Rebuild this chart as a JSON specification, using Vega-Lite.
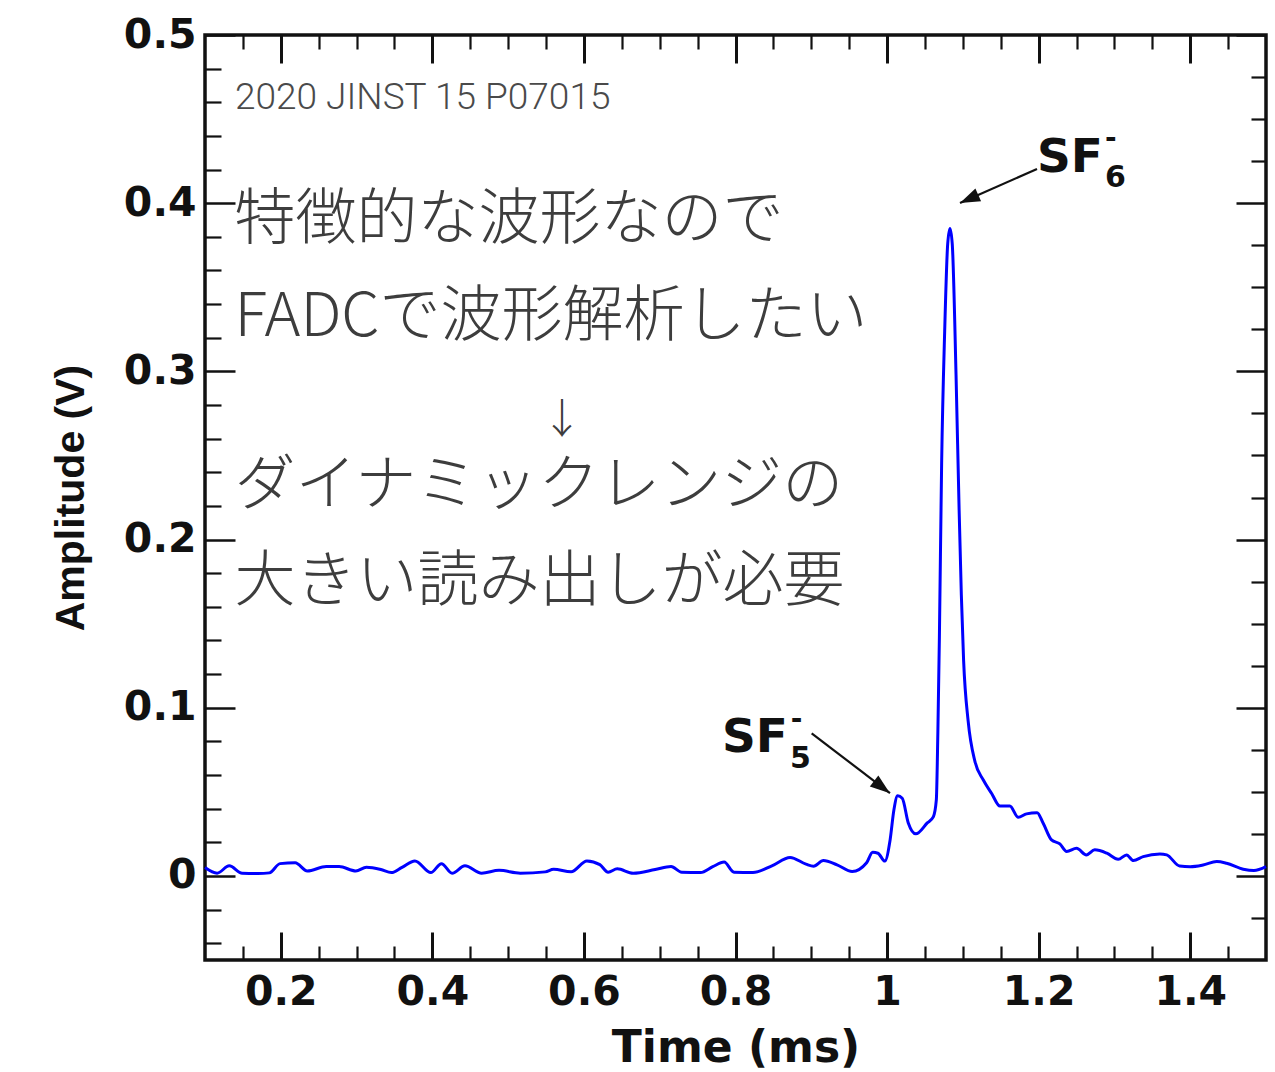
{
  "$schema": "https://vega.github.io/schema/vega-lite/v6.json",
  "width": 1061,
  "height": 925,
  "autosize": {"type": "none"},
  "padding": {"left": 205, "top": 35, "right": 9, "bottom": 112},
  "background": "white",
  "config": {
    "view": {"stroke": "#111", "strokeWidth": 3.5},
    "axis": {"domain": false, "grid": false, "tickColor": "#111"}
  },
  "data": {
    "values": [
      {"t": 0.100, "v": 0.0050}, {"t": 0.116, "v": 0.0016}, {"t": 0.132, "v": 0.0060}, {"t": 0.149, "v": 0.0016},
      {"t": 0.170, "v": 0.0014}, {"t": 0.185, "v": 0.0018}, {"t": 0.199, "v": 0.0073}, {"t": 0.219, "v": 0.0078},
      {"t": 0.235, "v": 0.0029}, {"t": 0.260, "v": 0.0056}, {"t": 0.277, "v": 0.0056}, {"t": 0.299, "v": 0.0029},
      {"t": 0.313, "v": 0.0051}, {"t": 0.332, "v": 0.0038}, {"t": 0.346, "v": 0.0020}, {"t": 0.360, "v": 0.0051},
      {"t": 0.377, "v": 0.0089}, {"t": 0.398, "v": 0.0020}, {"t": 0.412, "v": 0.0073}, {"t": 0.426, "v": 0.0016},
      {"t": 0.443, "v": 0.0060}, {"t": 0.465, "v": 0.0016}, {"t": 0.488, "v": 0.0033}, {"t": 0.516, "v": 0.0016},
      {"t": 0.549, "v": 0.0024}, {"t": 0.560, "v": 0.0040}, {"t": 0.583, "v": 0.0024}, {"t": 0.604, "v": 0.0089},
      {"t": 0.621, "v": 0.0067}, {"t": 0.632, "v": 0.0022}, {"t": 0.644, "v": 0.0042}, {"t": 0.665, "v": 0.0016},
      {"t": 0.694, "v": 0.0038}, {"t": 0.715, "v": 0.0056}, {"t": 0.729, "v": 0.0022}, {"t": 0.754, "v": 0.0020},
      {"t": 0.770, "v": 0.0055}, {"t": 0.785, "v": 0.0082}, {"t": 0.798, "v": 0.0022}, {"t": 0.823, "v": 0.0020},
      {"t": 0.848, "v": 0.0060}, {"t": 0.872, "v": 0.0110}, {"t": 0.893, "v": 0.0070}, {"t": 0.903, "v": 0.0058},
      {"t": 0.916, "v": 0.0092}, {"t": 0.934, "v": 0.0066}, {"t": 0.954, "v": 0.0026}, {"t": 0.973, "v": 0.0078},
      {"t": 0.981, "v": 0.0140}, {"t": 0.988, "v": 0.0135}, {"t": 0.997, "v": 0.0088}, {"t": 1.004, "v": 0.0214},
      {"t": 1.009, "v": 0.0392}, {"t": 1.014, "v": 0.0476}, {"t": 1.020, "v": 0.0462}, {"t": 1.028, "v": 0.0315},
      {"t": 1.038, "v": 0.0250}, {"t": 1.053, "v": 0.0315}, {"t": 1.061, "v": 0.0351}, {"t": 1.065, "v": 0.0452},
      {"t": 1.067, "v": 0.0850}, {"t": 1.069, "v": 0.1410}, {"t": 1.072, "v": 0.2455}, {"t": 1.076, "v": 0.3237},
      {"t": 1.080, "v": 0.3758}, {"t": 1.083, "v": 0.3850}, {"t": 1.086, "v": 0.3758}, {"t": 1.091, "v": 0.2980},
      {"t": 1.095, "v": 0.2190}, {"t": 1.098, "v": 0.1670}, {"t": 1.101, "v": 0.1280}, {"t": 1.107, "v": 0.0920},
      {"t": 1.116, "v": 0.0680}, {"t": 1.127, "v": 0.0570}, {"t": 1.138, "v": 0.0490}, {"t": 1.149, "v": 0.0415},
      {"t": 1.162, "v": 0.0416}, {"t": 1.173, "v": 0.0349}, {"t": 1.184, "v": 0.0369}, {"t": 1.198, "v": 0.0376},
      {"t": 1.206, "v": 0.0313}, {"t": 1.217, "v": 0.0214}, {"t": 1.228, "v": 0.0190}, {"t": 1.237, "v": 0.0145},
      {"t": 1.250, "v": 0.0164}, {"t": 1.263, "v": 0.0125}, {"t": 1.274, "v": 0.0155}, {"t": 1.290, "v": 0.0135},
      {"t": 1.305, "v": 0.0099}, {"t": 1.316, "v": 0.0125}, {"t": 1.325, "v": 0.0091}, {"t": 1.338, "v": 0.0115},
      {"t": 1.360, "v": 0.0131}, {"t": 1.369, "v": 0.0125}, {"t": 1.386, "v": 0.0059}, {"t": 1.400, "v": 0.0055},
      {"t": 1.417, "v": 0.0065}, {"t": 1.435, "v": 0.0085}, {"t": 1.448, "v": 0.0075}, {"t": 1.470, "v": 0.0040},
      {"t": 1.484, "v": 0.0032}, {"t": 1.500, "v": 0.0055}
    ]
  },
  "resolve": {"axis": {"x": "independent", "y": "independent"}},
  "layer": [
    {
      "mark": {"type": "line", "color": "#0000ff", "strokeWidth": 3, "interpolate": "monotone"},
      "encoding": {
        "x": {"field": "t", "type": "quantitative", "scale": {"domain": [0.1, 1.5], "nice": false, "zero": false},
          "axis": {"orient": "bottom", "values": [0.2, 0.4, 0.6, 0.8, 1, 1.2, 1.4], "format": "~g", "ticks": false,
            "labelFont": "DejaVu Sans", "labelFontWeight": "bold", "labelFontSize": 41, "labelColor": "#111",
            "labelPadding": 12, "labelOverlap": false, "labelFlush": false,
            "title": "Time (ms)", "titleFont": "DejaVu Sans", "titleFontWeight": "bold", "titleFontSize": 44,
            "titleColor": "#111", "titleBaseline": "alphabetic", "titleY": 101}},
        "y": {"field": "v", "type": "quantitative", "scale": {"domain": [-0.05, 0.5], "nice": false, "zero": false},
          "axis": {"orient": "left", "values": [0, 0.1, 0.2, 0.3, 0.4, 0.5], "format": "~g", "ticks": false,
            "labelFont": "DejaVu Sans", "labelFontWeight": "bold", "labelFontSize": 41, "labelColor": "#111",
            "labelPadding": 9, "labelOverlap": false, "labelFlush": false,
            "title": "Amplitude (V)", "titleFont": "Liberation Sans", "titleFontWeight": "bold", "titleFontSize": 41,
            "titleColor": "#111", "titleBaseline": "alphabetic", "titleAngle": 270, "titleX": -122}}
      }
    },
    {
      "mark": {"type": "point", "opacity": 0},
      "encoding": {
        "x": {"field": "t", "type": "quantitative", "scale": {"domain": [0.1, 1.5], "nice": false, "zero": false},
          "axis": {"orient": "bottom", "values": [0.2, 0.4, 0.6, 0.8, 1, 1.2, 1.4], "labels": false, "tickSize": -28, "tickWidth": 3, "title": null}},
        "y": {"field": "v", "type": "quantitative", "scale": {"domain": [-0.05, 0.5], "nice": false, "zero": false},
          "axis": {"orient": "left", "values": [0, 0.1, 0.2, 0.3, 0.4, 0.5], "labels": false, "tickSize": -30, "tickWidth": 2.5, "title": null}}
      }
    },
    {
      "mark": {"type": "point", "opacity": 0},
      "encoding": {
        "x": {"field": "t", "type": "quantitative", "scale": {"domain": [0.1, 1.5], "nice": false, "zero": false},
          "axis": {"orient": "top", "values": [0.2, 0.4, 0.6, 0.8, 1, 1.2, 1.4], "labels": false, "tickSize": -28, "tickWidth": 3, "title": null}},
        "y": {"field": "v", "type": "quantitative", "scale": {"domain": [-0.05, 0.5], "nice": false, "zero": false},
          "axis": {"orient": "right", "values": [0, 0.1, 0.2, 0.3, 0.4, 0.5], "labels": false, "tickSize": -30, "tickWidth": 2.5, "title": null}}
      }
    },
    {
      "mark": {"type": "point", "opacity": 0},
      "encoding": {
        "x": {"field": "t", "type": "quantitative", "scale": {"domain": [0.1, 1.5], "nice": false, "zero": false},
          "axis": {"orient": "bottom", "values": [0.15, 0.25, 0.3, 0.35, 0.45, 0.5, 0.55, 0.65, 0.7, 0.75, 0.85, 0.9, 0.95, 1.05, 1.1, 1.15, 1.25, 1.3, 1.35, 1.45], "labels": false, "tickSize": -14, "tickWidth": 2.2, "title": null}},
        "y": {"field": "v", "type": "quantitative", "scale": {"domain": [-0.05, 0.5], "nice": false, "zero": false},
          "axis": {"orient": "left", "values": [-0.04, -0.02, 0.02, 0.04, 0.06, 0.08, 0.12, 0.14, 0.16, 0.18, 0.22, 0.24, 0.26, 0.28, 0.32, 0.34, 0.36, 0.38, 0.42, 0.44, 0.46, 0.48], "labels": false, "tickSize": -16, "tickWidth": 2.2, "title": null}}
      }
    },
    {
      "mark": {"type": "point", "opacity": 0},
      "encoding": {
        "x": {"field": "t", "type": "quantitative", "scale": {"domain": [0.1, 1.5], "nice": false, "zero": false},
          "axis": {"orient": "top", "values": [0.15, 0.25, 0.3, 0.35, 0.45, 0.5, 0.55, 0.65, 0.7, 0.75, 0.85, 0.9, 0.95, 1.05, 1.1, 1.15, 1.25, 1.3, 1.35, 1.45], "labels": false, "tickSize": -14, "tickWidth": 2.2, "title": null}},
        "y": {"field": "v", "type": "quantitative", "scale": {"domain": [-0.05, 0.5], "nice": false, "zero": false},
          "axis": {"orient": "right", "values": [-0.025, 0.025, 0.05, 0.075, 0.125, 0.15, 0.175, 0.225, 0.25, 0.275, 0.325, 0.35, 0.375, 0.425, 0.45, 0.475], "labels": false, "tickSize": -15, "tickWidth": 2.2, "title": null}}
      }
    },
    {
      "data": {"values": [{"t": 0.1396, "v": 0.456, "label": "2020 JINST 15 P07015"}]},
      "mark": {"type": "text", "align": "left", "baseline": "alphabetic", "font": "Roboto", "fontWeight": 300, "fontSize": 37, "color": "#4a4a4a"},
      "encoding": {
        "x": {"field": "t", "type": "quantitative", "scale": {"domain": [0.1, 1.5], "nice": false, "zero": false}, "axis": null},
        "y": {"field": "v", "type": "quantitative", "scale": {"domain": [-0.05, 0.5], "nice": false, "zero": false}, "axis": null},
        "text": {"field": "label"}
      }
    },
    {
      "data": {"values": [
        {"t": 0.139, "v": 0.3894, "label": "特徴的な波形なので"},
        {"t": 0.139, "v": 0.3317, "label": "FADCで波形解析したい"},
        {"t": 0.139, "v": 0.2313, "label": "ダイナミックレンジの"},
        {"t": 0.139, "v": 0.1742, "label": "大きい読み出しが必要"}
      ]},
      "mark": {"type": "text", "align": "left", "baseline": "middle", "font": "Noto Sans CJK JP", "fontWeight": 300, "fontSize": 61, "color": "#3d3d3d"},
      "encoding": {
        "x": {"field": "t", "type": "quantitative", "scale": {"domain": [0.1, 1.5], "nice": false, "zero": false}, "axis": null},
        "y": {"field": "v", "type": "quantitative", "scale": {"domain": [-0.05, 0.5], "nice": false, "zero": false}, "axis": null},
        "text": {"field": "label"}
      }
    },
    {
      "data": {"values": [{"t": 0.571, "v": 0.2705, "label": "↓"}]},
      "mark": {"type": "text", "align": "center", "baseline": "middle", "font": "Noto Sans CJK JP", "fontWeight": 300, "fontSize": 41, "color": "#3d3d3d"},
      "encoding": {
        "x": {"field": "t", "type": "quantitative", "scale": {"domain": [0.1, 1.5], "nice": false, "zero": false}, "axis": null},
        "y": {"field": "v", "type": "quantitative", "scale": {"domain": [-0.05, 0.5], "nice": false, "zero": false}, "axis": null},
        "text": {"field": "label"}
      }
    },
    {
      "data": {"values": [
        {"t": 1.1978, "v": 0.4186, "label": "SF"},
        {"t": 0.7821, "v": 0.0737, "label": "SF"}
      ]},
      "mark": {"type": "text", "align": "left", "baseline": "alphabetic", "font": "DejaVu Sans", "fontWeight": "bold", "fontSize": 47, "color": "#111"},
      "encoding": {
        "x": {"field": "t", "type": "quantitative", "scale": {"domain": [0.1, 1.5], "nice": false, "zero": false}, "axis": null},
        "y": {"field": "v", "type": "quantitative", "scale": {"domain": [-0.05, 0.5], "nice": false, "zero": false}, "axis": null},
        "text": {"field": "label"}
      }
    },
    {
      "data": {"values": [
        {"t": 1.2875, "v": 0.4096, "label": "6"},
        {"t": 0.8719, "v": 0.0642, "label": "5"}
      ]},
      "mark": {"type": "text", "align": "left", "baseline": "alphabetic", "font": "DejaVu Sans", "fontWeight": "bold", "fontSize": 30, "color": "#111"},
      "encoding": {
        "x": {"field": "t", "type": "quantitative", "scale": {"domain": [0.1, 1.5], "nice": false, "zero": false}, "axis": null},
        "y": {"field": "v", "type": "quantitative", "scale": {"domain": [-0.05, 0.5], "nice": false, "zero": false}, "axis": null},
        "text": {"field": "label"}
      }
    },
    {
      "data": {"values": [
        {"t": 1.2875, "v": 0.4380, "label": "-"},
        {"t": 0.8730, "v": 0.0925, "label": "-"}
      ]},
      "mark": {"type": "text", "align": "left", "baseline": "middle", "font": "DejaVu Sans", "fontWeight": "bold", "fontSize": 28, "color": "#111"},
      "encoding": {
        "x": {"field": "t", "type": "quantitative", "scale": {"domain": [0.1, 1.5], "nice": false, "zero": false}, "axis": null},
        "y": {"field": "v", "type": "quantitative", "scale": {"domain": [-0.05, 0.5], "nice": false, "zero": false}, "axis": null},
        "text": {"field": "label"}
      }
    },
    {
      "data": {"values": [
        {"t": 1.1978, "v": 0.4203, "t2": 1.0962, "v2": 0.4001},
        {"t": 0.9005, "v": 0.0848, "t2": 1.0038, "v2": 0.0492}
      ]},
      "mark": {"type": "rule", "color": "#111", "strokeWidth": 2.2},
      "encoding": {
        "x": {"field": "t", "type": "quantitative", "scale": {"domain": [0.1, 1.5], "nice": false, "zero": false}, "axis": null},
        "y": {"field": "v", "type": "quantitative", "scale": {"domain": [-0.05, 0.5], "nice": false, "zero": false}, "axis": null},
        "x2": {"field": "t2"},
        "y2": {"field": "v2"}
      }
    },
    {
      "data": {"values": [{"t": 1.0962, "v": 0.4001}]},
      "mark": {"type": "point", "shape": "M0,0L0.7,2L-0.7,2Z", "filled": true, "color": "#111", "opacity": 1, "size": 400, "angle": 246},
      "encoding": {
        "x": {"field": "t", "type": "quantitative", "scale": {"domain": [0.1, 1.5], "nice": false, "zero": false}, "axis": null},
        "y": {"field": "v", "type": "quantitative", "scale": {"domain": [-0.05, 0.5], "nice": false, "zero": false}, "axis": null}
      }
    },
    {
      "data": {"values": [{"t": 1.0038, "v": 0.0492}]},
      "mark": {"type": "point", "shape": "M0,0L0.7,2L-0.7,2Z", "filled": true, "color": "#111", "opacity": 1, "size": 400, "angle": 127.5},
      "encoding": {
        "x": {"field": "t", "type": "quantitative", "scale": {"domain": [0.1, 1.5], "nice": false, "zero": false}, "axis": null},
        "y": {"field": "v", "type": "quantitative", "scale": {"domain": [-0.05, 0.5], "nice": false, "zero": false}, "axis": null}
      }
    }
  ]
}
